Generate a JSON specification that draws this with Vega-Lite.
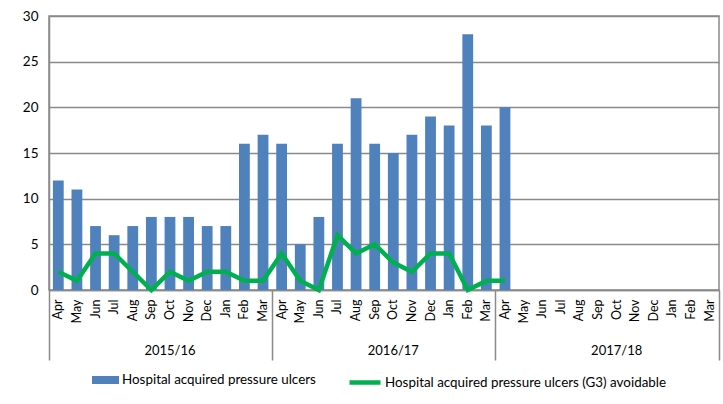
{
  "$schema": "https://vega.github.io/schema/vega-lite/v6.json",
  "width": 670,
  "height": 274,
  "autosize": {"type": "none"},
  "padding": {"left": 49, "top": 16, "right": 4, "bottom": 114},
  "background": "white",
  "config": {
    "view": {"stroke": "#8a8a8a", "strokeWidth": 1.5},
    "font": "Lato",
    "axis": {"labelColor": "#000000", "labelFont": "Lato"},
    "legend": {"labelFont": "Lato", "labelColor": "#000000"}
  },
  "data": {
    "values": [
      {"key": "2015/16-Apr", "ulcers": 12, "avoidable": 2},
      {"key": "2015/16-May", "ulcers": 11, "avoidable": 1},
      {"key": "2015/16-Jun", "ulcers": 7, "avoidable": 4},
      {"key": "2015/16-Jul", "ulcers": 6, "avoidable": 4},
      {"key": "2015/16-Aug", "ulcers": 7, "avoidable": 2},
      {"key": "2015/16-Sep", "ulcers": 8, "avoidable": 0},
      {"key": "2015/16-Oct", "ulcers": 8, "avoidable": 2},
      {"key": "2015/16-Nov", "ulcers": 8, "avoidable": 1},
      {"key": "2015/16-Dec", "ulcers": 7, "avoidable": 2},
      {"key": "2015/16-Jan", "ulcers": 7, "avoidable": 2},
      {"key": "2015/16-Feb", "ulcers": 16, "avoidable": 1},
      {"key": "2015/16-Mar", "ulcers": 17, "avoidable": 1},
      {"key": "2016/17-Apr", "ulcers": 16, "avoidable": 4},
      {"key": "2016/17-May", "ulcers": 5, "avoidable": 1},
      {"key": "2016/17-Jun", "ulcers": 8, "avoidable": 0},
      {"key": "2016/17-Jul", "ulcers": 16, "avoidable": 6},
      {"key": "2016/17-Aug", "ulcers": 21, "avoidable": 4},
      {"key": "2016/17-Sep", "ulcers": 16, "avoidable": 5},
      {"key": "2016/17-Oct", "ulcers": 15, "avoidable": 3},
      {"key": "2016/17-Nov", "ulcers": 17, "avoidable": 2},
      {"key": "2016/17-Dec", "ulcers": 19, "avoidable": 4},
      {"key": "2016/17-Jan", "ulcers": 18, "avoidable": 4},
      {"key": "2016/17-Feb", "ulcers": 28, "avoidable": 0},
      {"key": "2016/17-Mar", "ulcers": 18, "avoidable": 1},
      {"key": "2017/18-Apr", "ulcers": 20, "avoidable": 1},
      {"key": "2017/18-May", "ulcers": null, "avoidable": null},
      {"key": "2017/18-Jun", "ulcers": null, "avoidable": null},
      {"key": "2017/18-Jul", "ulcers": null, "avoidable": null},
      {"key": "2017/18-Aug", "ulcers": null, "avoidable": null},
      {"key": "2017/18-Sep", "ulcers": null, "avoidable": null},
      {"key": "2017/18-Oct", "ulcers": null, "avoidable": null},
      {"key": "2017/18-Nov", "ulcers": null, "avoidable": null},
      {"key": "2017/18-Dec", "ulcers": null, "avoidable": null},
      {"key": "2017/18-Jan", "ulcers": null, "avoidable": null},
      {"key": "2017/18-Feb", "ulcers": null, "avoidable": null},
      {"key": "2017/18-Mar", "ulcers": null, "avoidable": null}
    ]
  },
  "resolve": {"axis": {"x": "independent"}},
  "layer": [
    {
      "mark": {"type": "bar", "width": {"band": 0.58}},
      "encoding": {
        "x": {
          "field": "key", "type": "nominal", "sort": null,
          "scale": {"type": "band", "paddingInner": 0, "paddingOuter": 0},
          "axis": {
            "orient": "bottom", "title": null,
            "labelExpr": "slice(datum.value, 8)",
            "labelAngle": -90, "labelAlign": "right", "labelBaseline": "middle",
            "labelFontSize": 12.5, "labelPadding": 9, "labelOverlap": false,
            "ticks": false, "grid": false,
            "domain": true, "domainColor": "#8a8a8a", "domainWidth": 1.5
          }
        },
        "y": {
          "field": "ulcers", "type": "quantitative",
          "scale": {"domain": [0, 30], "nice": false},
          "axis": {
            "title": null, "values": [0, 5, 10, 15, 20, 25, 30],
            "grid": true, "gridColor": "#8a8a8a", "gridWidth": 1.5,
            "ticks": false, "domain": true, "domainColor": "#8a8a8a", "domainWidth": 1.5,
            "labelFontSize": 13.5, "labelPadding": 11
          }
        },
        "fill": {
          "datum": "Hospital acquired pressure ulcers", "type": "nominal",
          "scale": {"range": ["#4F81BD"]},
          "legend": {
            "orient": "none", "legendX": 46.5, "legendY": 354, "title": null,
            "padding": 0, "symbolType": "M-1.35,-0.4H1.35V0.4H-1.35Z", "symbolSize": 400,
            "symbolStrokeWidth": 0, "labelFontSize": 13.4, "labelOffset": 6.5, "labelLimit": 0
          }
        }
      }
    },
    {
      "mark": {"type": "line", "strokeWidth": 4.5, "strokeJoin": "miter"},
      "encoding": {
        "x": {
          "field": "key", "type": "nominal", "sort": null,
          "axis": {
            "orient": "bottom", "title": null,
            "values": ["2015/16-Apr", "2016/17-Apr", "2017/18-Apr"],
            "bandPosition": 0,
            "labelExpr": "slice(datum.value, 0, 7)",
            "labelAngle": 0, "labelAlign": "center", "labelBaseline": "middle",
            "labelFontSize": 13, "labelOffset": 111.7, "labelPadding": -10,
            "labelOverlap": false, "labelBound": false, "labelFlush": false,
            "ticks": true, "tickSize": 70, "tickColor": "#8a8a8a", "tickWidth": 1.5,
            "grid": false, "domain": false
          }
        },
        "y": {
          "field": "avoidable", "type": "quantitative",
          "scale": {"domain": [0, 30], "nice": false},
          "axis": {
            "title": null, "values": [0, 5, 10, 15, 20, 25, 30],
            "grid": true, "gridColor": "#8a8a8a", "gridWidth": 1.5,
            "ticks": false, "domain": true, "domainColor": "#8a8a8a", "domainWidth": 1.5,
            "labelFontSize": 13.5, "labelPadding": 11
          }
        },
        "stroke": {
          "datum": "Hospital acquired pressure ulcers (G3) avoidable", "type": "nominal",
          "scale": {"range": ["#00B050"]},
          "legend": {
            "orient": "none", "legendX": 303.5, "legendY": 354, "title": null,
            "padding": 0, "symbolType": "M-1.55,0H1.55", "symbolSize": 400,
            "symbolStrokeWidth": 4.5, "labelFontSize": 13.4, "labelOffset": 7.5, "labelLimit": 0
          }
        }
      }
    },
    {
      "mark": {"type": "point", "opacity": 0},
      "encoding": {
        "x": {
          "field": "key", "type": "nominal", "sort": null,
          "axis": {
            "orient": "bottom", "title": null,
            "values": ["2017/18-Mar"], "bandPosition": 1,
            "labels": false, "ticks": true, "tickSize": 70,
            "tickColor": "#8a8a8a", "tickWidth": 1.5,
            "grid": false, "domain": false
          }
        }
      }
    }
  ]
}
